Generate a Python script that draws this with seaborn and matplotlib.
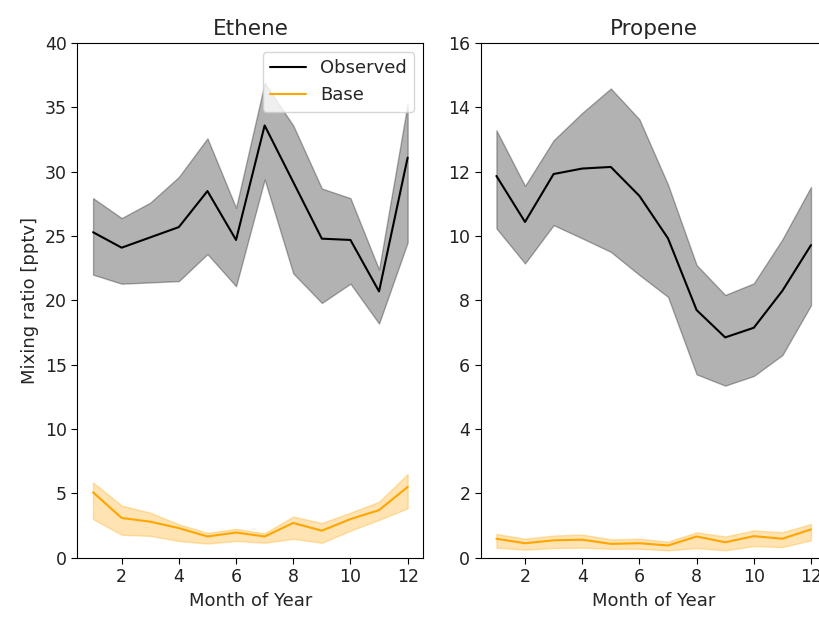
import numpy as np
import pandas as pd
import matplotlib
matplotlib.use("Agg")
import matplotlib.pyplot as plt
import seaborn as sns

months = list(range(1, 13))

# Ethene (pptv)
ethene_obs = [25.3, 24.1, 24.9, 25.7, 28.5, 24.7, 33.6, 29.2, 24.8, 24.7, 20.7, 31.1]
ethene_obs_hi = [27.95, 26.4, 27.6, 29.6, 32.6, 27.2, 36.9, 33.6, 28.7, 27.95, 22.4, 35.3]
ethene_obs_lo = [22.0, 21.3, 21.4, 21.5, 23.6, 21.1, 29.4, 22.1, 19.8, 21.3, 18.2, 24.5]
ethene_base = [5.08, 3.09, 2.8, 2.3, 1.65, 1.96, 1.65, 2.7, 2.1, 3.0, 3.7, 5.5]
ethene_base_hi = [5.85, 4.05, 3.5, 2.6, 1.93, 2.24, 1.9, 3.2, 2.7, 3.5, 4.35, 6.5]
ethene_base_lo = [3.0, 1.78, 1.7, 1.3, 1.1, 1.3, 1.16, 1.47, 1.16, 2.1, 2.94, 3.84]

# Propene (pptv)
propene_obs = [11.87, 10.44, 11.93, 12.1, 12.15, 11.25, 9.93, 7.7, 6.85, 7.15, 8.3, 9.72]
propene_obs_hi = [13.29, 11.56, 12.98, 13.83, 14.59, 13.63, 11.6, 9.1, 8.17, 8.53, 9.9, 11.53]
propene_obs_lo = [10.24, 9.15, 10.34, 9.93, 9.51, 8.79, 8.11, 5.7, 5.35, 5.65, 6.3, 7.85]
propene_base = [0.59, 0.45, 0.54, 0.56, 0.43, 0.45, 0.38, 0.66, 0.48, 0.67, 0.59, 0.88]
propene_base_hi = [0.74, 0.59, 0.69, 0.72, 0.57, 0.59, 0.5, 0.79, 0.66, 0.85, 0.79, 1.05]
propene_base_lo = [0.31, 0.25, 0.3, 0.31, 0.28, 0.28, 0.23, 0.3, 0.23, 0.36, 0.33, 0.54]

sns.set_style("ticks")
plt.rcParams['font.family'] = ['DejaVu Sans']

fig = plt.figure(figsize=(8.2, 6.17), dpi=100)
ax1 = fig.add_axes([0.0943, 0.0961, 0.422, 0.834])
ax2 = fig.add_axes([0.5862, 0.0961, 0.422, 0.834])

panels = [
    (ax1, "Ethene", ethene_obs, ethene_obs_lo, ethene_obs_hi,
     ethene_base, ethene_base_lo, ethene_base_hi, 40),
    (ax2, "Propene", propene_obs, propene_obs_lo, propene_obs_hi,
     propene_base, propene_base_lo, propene_base_hi, 16),
]

for ax, name, obs, obs_lo, obs_hi, base, base_lo, base_hi, ymax in panels:
    df = pd.DataFrame({"month": months, "Observed": obs, "Base": base})
    sns.lineplot(data=df, x="month", y="Observed", color="k", label="Observed", ax=ax)
    ax.fill_between(months, obs_lo, obs_hi, color="k", alpha=0.3)
    sns.lineplot(data=df, x="month", y="Base", color="orange", label="Base", ax=ax)
    ax.fill_between(months, base_lo, base_hi, color="orange", alpha=0.3)
    ax.set_ylim(0, ymax)
    ax.set_xlim(0.45, 12.55)
    ax.set_xticks([2, 4, 6, 8, 10, 12])
    ax.set_title(name, fontsize=15.5)
    ax.set_xlabel("Month of Year", fontsize=13)
    ax.set_ylabel("")
    for s in ax.spines.values():
        s.set_color("k")
    ax.tick_params(colors="k", labelcolor="#222222", length=4, labelsize=12.5)

ax1.set_ylabel("Mixing ratio [pptv]", fontsize=13)
ax1.legend(loc="upper right", fontsize=13)
ax2.get_legend().remove()

fig.savefig("out.png", dpi=100)
